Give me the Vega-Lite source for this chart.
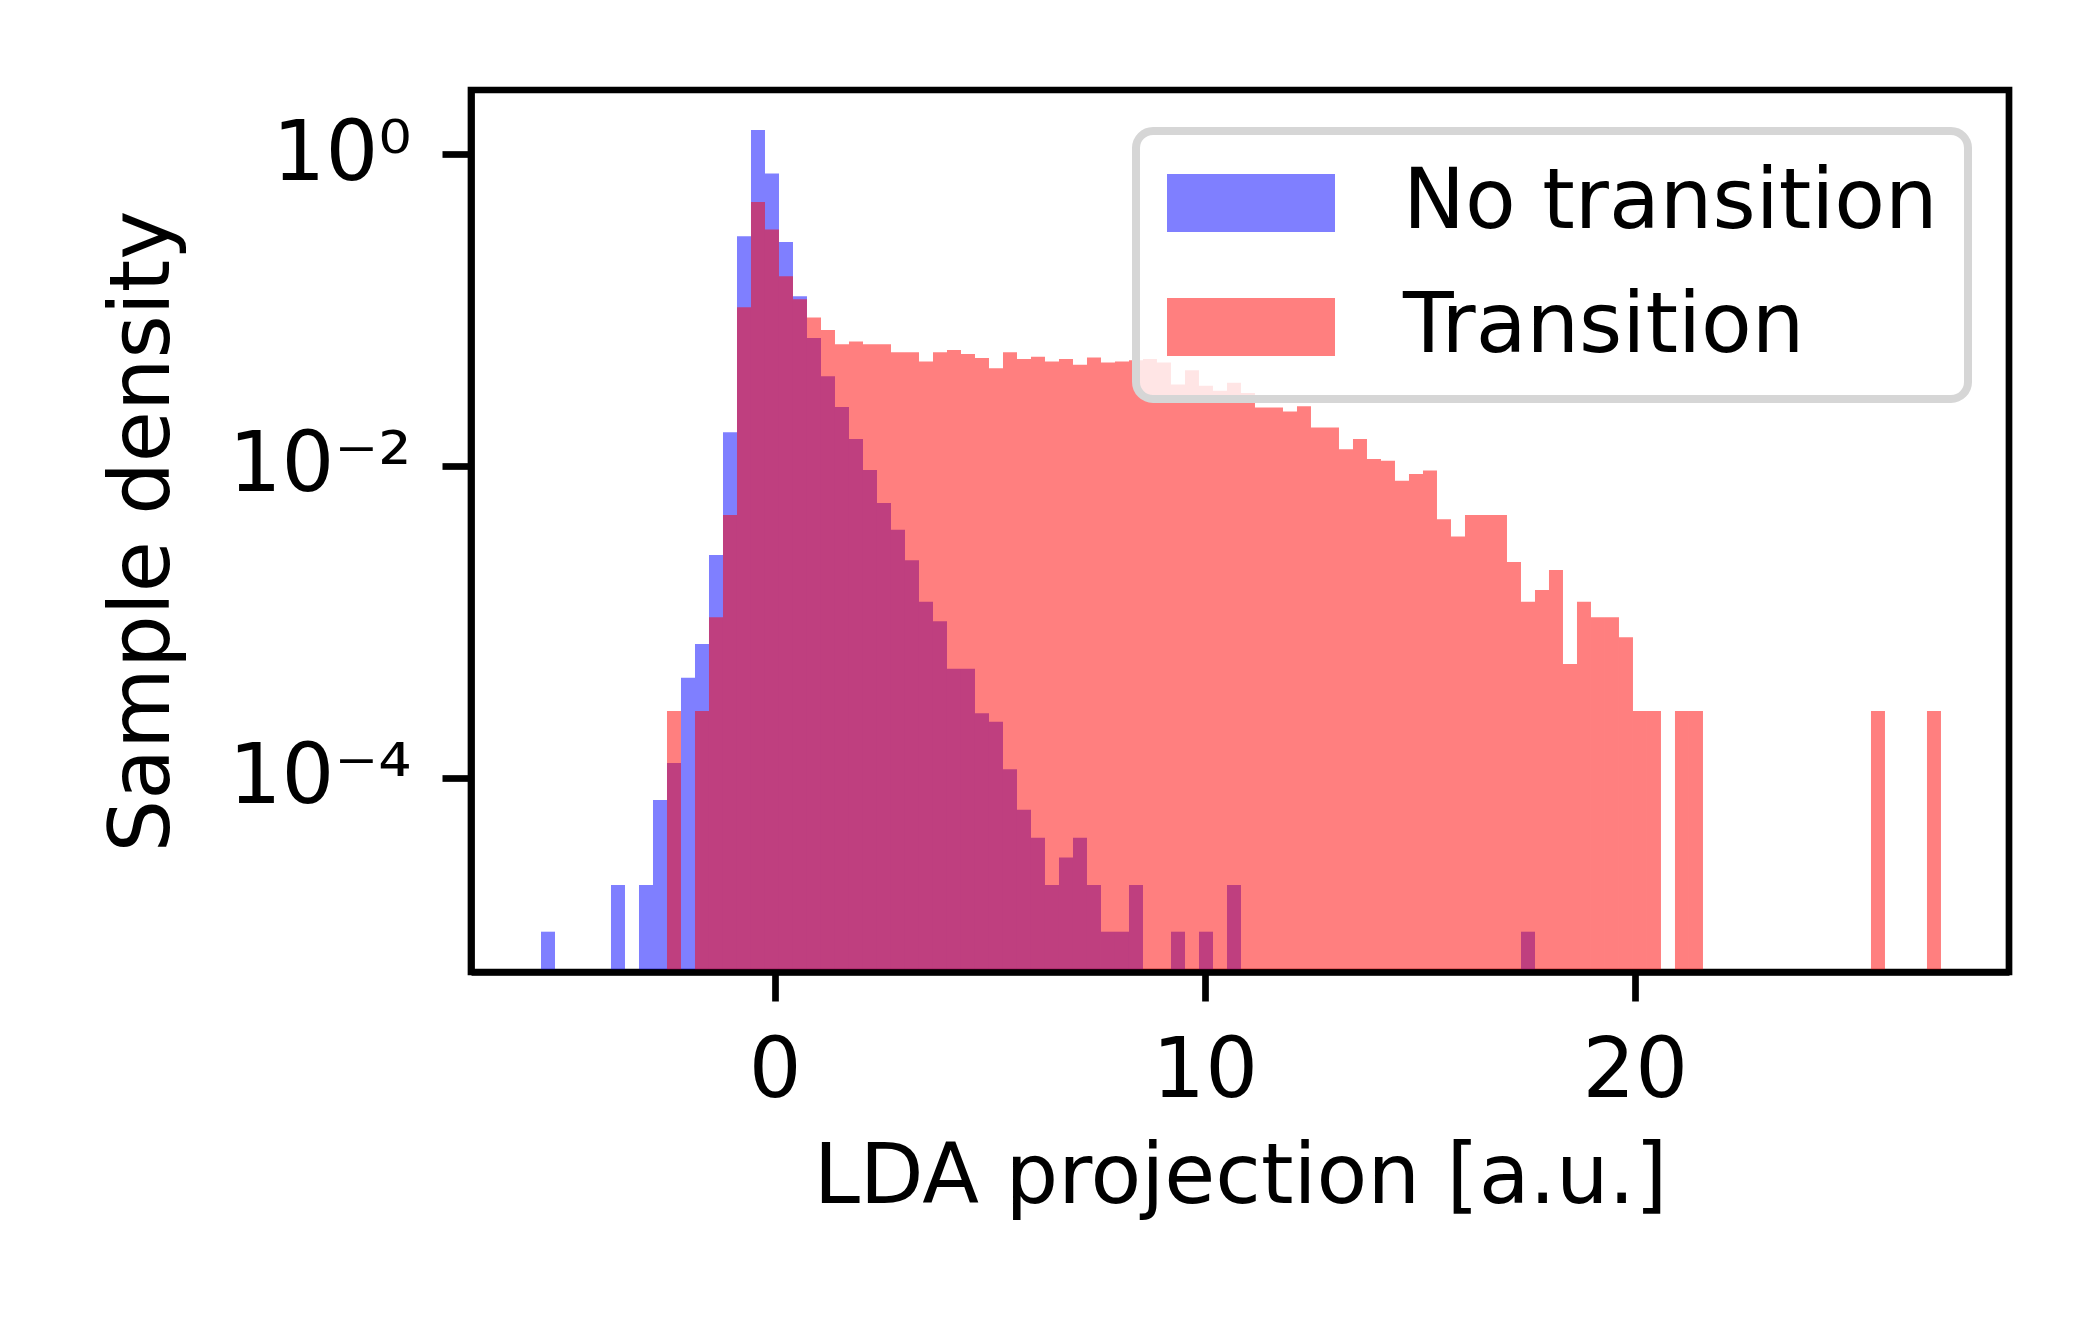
{
  "$schema": "https://vega.github.io/schema/vega-lite/v6.json",
  "width": 1538,
  "height": 882,
  "autosize": {"type": "none"},
  "padding": {"left": 471, "top": 90, "right": 91, "bottom": 348},
  "background": "white",
  "config": {
    "view": {"stroke": "black", "strokeWidth": 6.7},
    "font": "DejaVu Sans",
    "legend": {"strokeWidth": 8}
  },
  "data": {
    "values": [
      {"g": "No transition", "a": -5.4300, "b": -5.1045, "d": 1.03e-5},
      {"g": "No transition", "a": -3.8025, "b": -3.4770, "d": 2.05e-5},
      {"g": "No transition", "a": -3.1515, "b": -2.8260, "d": 2.05e-5},
      {"g": "No transition", "a": -2.8260, "b": -2.5005, "d": 7.19e-5},
      {"g": "No transition", "a": -2.5005, "b": -2.1750, "d": 1.245e-4},
      {"g": "No transition", "a": -2.1750, "b": -1.8495, "d": 4.38e-4},
      {"g": "No transition", "a": -1.8495, "b": -1.5240, "d": 7.2e-4},
      {"g": "No transition", "a": -1.5240, "b": -1.1985, "d": 2.68e-3},
      {"g": "No transition", "a": -1.1985, "b": -0.8730, "d": 0.01644},
      {"g": "No transition", "a": -0.8730, "b": -0.5475, "d": 0.2968},
      {"g": "No transition", "a": -0.5475, "b": -0.2220, "d": 1.424},
      {"g": "No transition", "a": -0.2220, "b": 0.1035, "d": 0.750},
      {"g": "No transition", "a": 0.1035, "b": 0.4290, "d": 0.273},
      {"g": "No transition", "a": 0.4290, "b": 0.7545, "d": 0.1224},
      {"g": "No transition", "a": 0.7545, "b": 1.0800, "d": 0.0662},
      {"g": "No transition", "a": 1.0800, "b": 1.4055, "d": 0.03758},
      {"g": "No transition", "a": 1.4055, "b": 1.7310, "d": 0.02383},
      {"g": "No transition", "a": 1.7310, "b": 2.0565, "d": 0.01486},
      {"g": "No transition", "a": 2.0565, "b": 2.3820, "d": 0.00943},
      {"g": "No transition", "a": 2.3820, "b": 2.7075, "d": 0.00578},
      {"g": "No transition", "a": 2.7075, "b": 3.0330, "d": 0.00389},
      {"g": "No transition", "a": 3.0330, "b": 3.3585, "d": 0.002486},
      {"g": "No transition", "a": 3.3585, "b": 3.6840, "d": 0.001343},
      {"g": "No transition", "a": 3.6840, "b": 4.0095, "d": 0.001008},
      {"g": "No transition", "a": 4.0095, "b": 4.3350, "d": 5.0e-4},
      {"g": "No transition", "a": 4.3350, "b": 4.6605, "d": 5.0e-4},
      {"g": "No transition", "a": 4.6605, "b": 4.9860, "d": 2.593e-4},
      {"g": "No transition", "a": 4.9860, "b": 5.3115, "d": 2.286e-4},
      {"g": "No transition", "a": 5.3115, "b": 5.6370, "d": 1.134e-4},
      {"g": "No transition", "a": 5.6370, "b": 5.9625, "d": 6.23e-5},
      {"g": "No transition", "a": 5.9625, "b": 6.2880, "d": 4.12e-5},
      {"g": "No transition", "a": 6.2880, "b": 6.6135, "d": 2.05e-5},
      {"g": "No transition", "a": 6.6135, "b": 6.9390, "d": 3.08e-5},
      {"g": "No transition", "a": 6.9390, "b": 7.2645, "d": 4.12e-5},
      {"g": "No transition", "a": 7.2645, "b": 7.5900, "d": 2.05e-5},
      {"g": "No transition", "a": 7.5900, "b": 7.9155, "d": 1.03e-5},
      {"g": "No transition", "a": 7.9155, "b": 8.2410, "d": 1.03e-5},
      {"g": "No transition", "a": 8.2410, "b": 8.5665, "d": 2.05e-5},
      {"g": "No transition", "a": 9.2175, "b": 9.5430, "d": 1.03e-5},
      {"g": "No transition", "a": 9.8685, "b": 10.1940, "d": 1.03e-5},
      {"g": "No transition", "a": 10.5195, "b": 10.8450, "d": 2.05e-5},
      {"g": "No transition", "a": 17.3550, "b": 17.6805, "d": 1.03e-5},
      {"g": "Transition", "a": -2.5005, "b": -2.1750, "d": 2.68e-4},
      {"g": "Transition", "a": -1.8495, "b": -1.5240, "d": 2.68e-4},
      {"g": "Transition", "a": -1.5240, "b": -1.1985, "d": 1.069e-3},
      {"g": "Transition", "a": -1.1985, "b": -0.8730, "d": 4.84e-3},
      {"g": "Transition", "a": -0.8730, "b": -0.5475, "d": 0.1043},
      {"g": "Transition", "a": -0.5475, "b": -0.2220, "d": 0.4922},
      {"g": "Transition", "a": -0.2220, "b": 0.1035, "d": 0.3284},
      {"g": "Transition", "a": 0.1035, "b": 0.4290, "d": 0.1644},
      {"g": "Transition", "a": 0.4290, "b": 0.7545, "d": 0.1173},
      {"g": "Transition", "a": 0.7545, "b": 1.0800, "d": 0.0896},
      {"g": "Transition", "a": 1.0800, "b": 1.4055, "d": 0.0744},
      {"g": "Transition", "a": 1.4055, "b": 1.7310, "d": 0.0603},
      {"g": "Transition", "a": 1.7310, "b": 2.0565, "d": 0.0629},
      {"g": "Transition", "a": 2.0565, "b": 2.3820, "d": 0.0603},
      {"g": "Transition", "a": 2.3820, "b": 2.7075, "d": 0.0603},
      {"g": "Transition", "a": 2.7075, "b": 3.0330, "d": 0.0536},
      {"g": "Transition", "a": 3.0330, "b": 3.3585, "d": 0.0536},
      {"g": "Transition", "a": 3.3585, "b": 3.6840, "d": 0.0468},
      {"g": "Transition", "a": 3.6840, "b": 4.0095, "d": 0.0536},
      {"g": "Transition", "a": 4.0095, "b": 4.3350, "d": 0.0554},
      {"g": "Transition", "a": 4.3350, "b": 4.6605, "d": 0.0522},
      {"g": "Transition", "a": 4.6605, "b": 4.9860, "d": 0.0492},
      {"g": "Transition", "a": 4.9860, "b": 5.3115, "d": 0.0423},
      {"g": "Transition", "a": 5.3115, "b": 5.6370, "d": 0.0536},
      {"g": "Transition", "a": 5.6370, "b": 5.9625, "d": 0.0484},
      {"g": "Transition", "a": 5.9625, "b": 6.2880, "d": 0.0501},
      {"g": "Transition", "a": 6.2880, "b": 6.6135, "d": 0.0468},
      {"g": "Transition", "a": 6.6135, "b": 6.9390, "d": 0.0484},
      {"g": "Transition", "a": 6.9390, "b": 7.2645, "d": 0.0445},
      {"g": "Transition", "a": 7.2645, "b": 7.5900, "d": 0.0496},
      {"g": "Transition", "a": 7.5900, "b": 7.9155, "d": 0.0460},
      {"g": "Transition", "a": 7.9155, "b": 8.2410, "d": 0.0468},
      {"g": "Transition", "a": 8.2410, "b": 8.5665, "d": 0.0476},
      {"g": "Transition", "a": 8.5665, "b": 8.8920, "d": 0.0484},
      {"g": "Transition", "a": 8.8920, "b": 9.2175, "d": 0.0460},
      {"g": "Transition", "a": 9.2175, "b": 9.5430, "d": 0.0333},
      {"g": "Transition", "a": 9.5430, "b": 9.8685, "d": 0.0411},
      {"g": "Transition", "a": 9.8685, "b": 10.1940, "d": 0.0327},
      {"g": "Transition", "a": 10.1940, "b": 10.5195, "d": 0.0303},
      {"g": "Transition", "a": 10.5195, "b": 10.8450, "d": 0.0342},
      {"g": "Transition", "a": 10.8450, "b": 11.1705, "d": 0.0293},
      {"g": "Transition", "a": 11.1705, "b": 11.4960, "d": 0.0237},
      {"g": "Transition", "a": 11.4960, "b": 11.8215, "d": 0.0237},
      {"g": "Transition", "a": 11.8215, "b": 12.1470, "d": 0.02236},
      {"g": "Transition", "a": 12.1470, "b": 12.4725, "d": 0.0241},
      {"g": "Transition", "a": 12.4725, "b": 12.7980, "d": 0.01764},
      {"g": "Transition", "a": 12.7980, "b": 13.1235, "d": 0.01764},
      {"g": "Transition", "a": 13.1235, "b": 13.4490, "d": 0.0128},
      {"g": "Transition", "a": 13.4490, "b": 13.7745, "d": 0.0149},
      {"g": "Transition", "a": 13.7745, "b": 14.1000, "d": 0.01107},
      {"g": "Transition", "a": 14.1000, "b": 14.4255, "d": 0.01079},
      {"g": "Transition", "a": 14.4255, "b": 14.7510, "d": 0.00802},
      {"g": "Transition", "a": 14.7510, "b": 15.0765, "d": 0.00888},
      {"g": "Transition", "a": 15.0765, "b": 15.4020, "d": 0.00934},
      {"g": "Transition", "a": 15.4020, "b": 15.7275, "d": 0.00455},
      {"g": "Transition", "a": 15.7275, "b": 16.0530, "d": 0.00353},
      {"g": "Transition", "a": 16.0530, "b": 16.3785, "d": 0.00484},
      {"g": "Transition", "a": 16.3785, "b": 16.7040, "d": 0.00484},
      {"g": "Transition", "a": 16.7040, "b": 17.0295, "d": 0.00484},
      {"g": "Transition", "a": 17.0295, "b": 17.3550, "d": 0.002424},
      {"g": "Transition", "a": 17.3550, "b": 17.6805, "d": 0.001343},
      {"g": "Transition", "a": 17.6805, "b": 18.0060, "d": 0.001603},
      {"g": "Transition", "a": 18.0060, "b": 18.3315, "d": 0.002154},
      {"g": "Transition", "a": 18.3315, "b": 18.6570, "d": 5.36e-4},
      {"g": "Transition", "a": 18.6570, "b": 18.9825, "d": 0.001343},
      {"g": "Transition", "a": 18.9825, "b": 19.3080, "d": 0.001069},
      {"g": "Transition", "a": 19.3080, "b": 19.6335, "d": 0.001069},
      {"g": "Transition", "a": 19.6335, "b": 19.9590, "d": 7.96e-4},
      {"g": "Transition", "a": 19.9590, "b": 20.2845, "d": 2.68e-4},
      {"g": "Transition", "a": 20.2845, "b": 20.6100, "d": 2.68e-4},
      {"g": "Transition", "a": 20.9355, "b": 21.2610, "d": 2.68e-4},
      {"g": "Transition", "a": 21.2610, "b": 21.5865, "d": 2.68e-4},
      {"g": "Transition", "a": 25.4925, "b": 25.8180, "d": 2.68e-4},
      {"g": "Transition", "a": 26.7945, "b": 27.1200, "d": 2.68e-4}
    ]
  },
  "mark": {"type": "rect", "opacity": 0.5, "strokeWidth": 0},
  "encoding": {
    "x": {
      "field": "a", "type": "quantitative",
      "scale": {"domain": [-7.0575, 28.7015], "nice": false, "zero": false},
      "axis": {
        "title": "LDA projection [a.u.]",
        "values": [0, 10, 20],
        "format": "d",
        "grid": false,
        "zindex": 1,
        "domainColor": "black", "domainWidth": 6.7,
        "tickColor": "black", "tickWidth": 6.7, "tickSize": 29,
        "labelFont": "DejaVu Sans", "labelFontSize": 83, "labelColor": "black", "labelPadding": 29, "labelFlush": false, "labelLimit": 1000,
        "titleFont": "DejaVu Sans", "titleFontSize": 83, "titleFontWeight": "normal", "titleColor": "black", "titlePadding": 23
      }
    },
    "x2": {"field": "b"},
    "y": {
      "field": "d", "type": "quantitative",
      "scale": {"type": "log", "domain": [5.68e-6, 2.575], "nice": false, "zero": false},
      "axis": {
        "title": "Sample density",
        "values": [1, 0.01, 0.0001],
        "labelExpr": "datum.value > 0.5 ? '10⁰' : (datum.value > 0.005 ? '10⁻²' : '10⁻⁴')",
        "grid": false,
        "zindex": 1,
        "domainColor": "black", "domainWidth": 6.7,
        "tickColor": "black", "tickWidth": 6.7, "tickSize": 29,
        "labelFont": "DejaVu Sans", "labelFontSize": 83, "labelColor": "black", "labelPadding": 31, "labelLimit": 1000,
        "titleFont": "DejaVu Sans", "titleFontSize": 83, "titleFontWeight": "normal", "titleColor": "black", "titlePadding": 86
      }
    },
    "y2": {"datum": 5.68e-6},
    "color": {
      "field": "g", "type": "nominal",
      "scale": {"domain": ["No transition", "Transition"], "range": ["#0000ff", "#ff0000"]},
      "legend": {
        "title": null,
        "orient": "top-right",
        "offset": 41,
        "symbolType": "M-2,-0.69L2,-0.69L2,0.69L-2,0.69Z",
        "symbolSize": 7056,
        "symbolOffset": 43,
        "symbolOpacity": 0.5,
        "symbolStrokeWidth": 0,
        "labelFont": "DejaVu Sans",
        "labelFontSize": 83,
        "labelColor": "black",
        "labelOffset": 110,
        "labelLimit": 1000,
        "rowPadding": 40,
        "padding": 30,
        "fillColor": "rgba(255,255,255,0.8)",
        "strokeColor": "#d6d6d6",
        "cornerRadius": 17
      }
    }
  }
}
